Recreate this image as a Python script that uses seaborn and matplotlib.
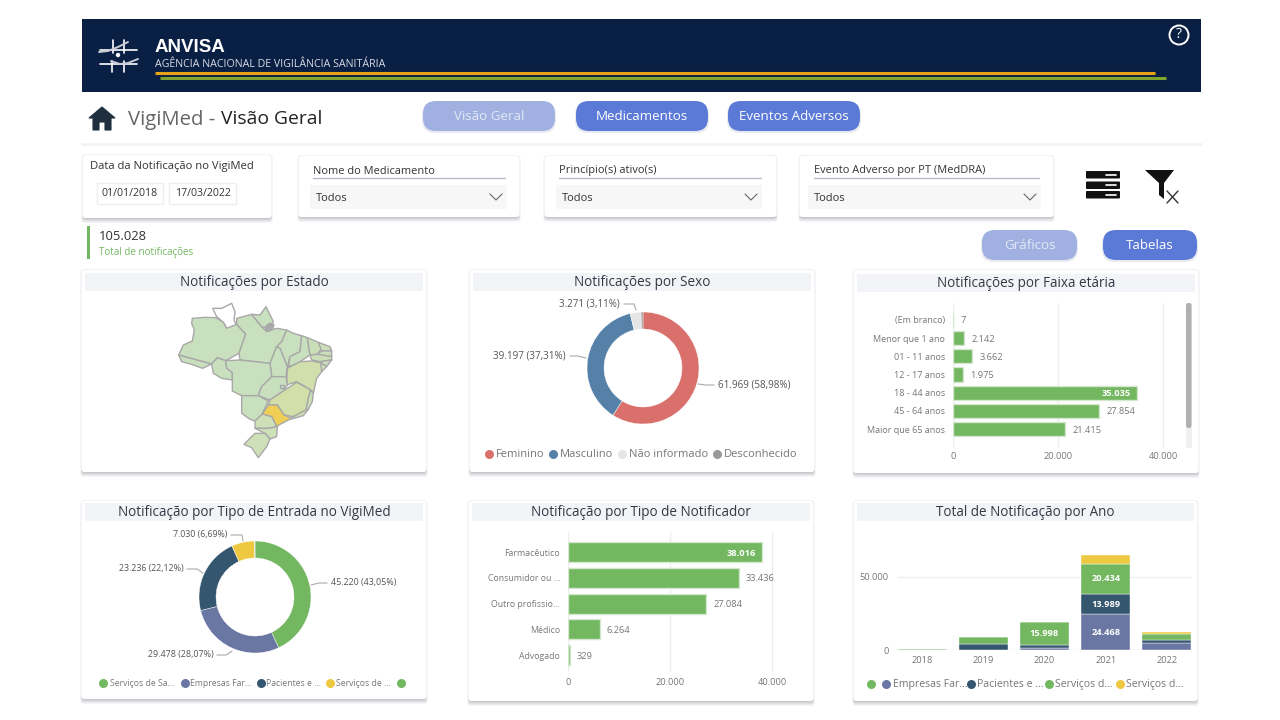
import numpy as np
import pandas as pd
import seaborn as sns
import matplotlib.pyplot as plt
from matplotlib.patches import FancyBboxPatch, Rectangle, Polygon, Circle

total_notificacoes = 105028

sexo_nomes = ['Feminino', 'Masculino', 'Não informado', 'Desconhecido']
sexo_valores = [61969, 39197, 3271, 591]
sexo_pct = ['58,98', '37,31', '3,11']
sexo_cores = ['#D9706B', '#5580A8', '#E6E6E6', '#999999']

entrada_nomes = ['Serviços de Sa...', 'Empresas Far...', 'Pacientes e ...', 'Serviços de ...', '']
entrada_valores = [45220, 29478, 23236, 7030, 64]
entrada_pct = ['43,05', '28,07', '22,12', '6,69']
entrada_cores = ['#73B761', '#6B77A3', '#34566F', '#EFC841', '#73B761']

faixa_nomes = ['(Em branco)', 'Menor que 1 ano', '01 - 11 anos', '12 - 17 anos', '18 - 44 anos', '45 - 64 anos', 'Maior que 65 anos']
faixa_valores = [7, 2142, 3662, 1975, 35035, 27854, 21415]

notificador_nomes = ['Farmacêutico', 'Consumidor ou ...', 'Outro profissio...', 'Médico', 'Advogado']
notificador_valores = [38016, 33436, 27084, 6264, 329]

anos = ['2018', '2019', '2020', '2021', '2022']
ano_empresas = [150, 100, 1100, 24468, 5000]
ano_pacientes = [100, 4000, 2300, 13989, 1900]
ano_saude = [150, 4600, 15998, 20434, 4300]
ano_outros = [50, 100, 100, 6480, 1200]
ano_nomes = ['Empresas Far...', 'Pacientes e ...', 'Serviços d...', 'Serviços d...']
ano_cores = ['#6B77A3', '#34566F', '#73B761', '#EFC841']

# contornos dos estados, tracados sobre o print
mapa_rr = [(398,130),(425,130),(455,115),(465,140),(462,165),(470,182),(440,190),(430,172),(410,155)]
mapa_am = [(337,160),(375,157),(408,158),(430,172),(440,190),(470,178),(497,207),(477,265),(437,287),(412,278),(395,297),(350,285),(296,270),(310,240),(337,228),(343,195),(335,175)]
mapa_ac = [(296,270),(350,285),(395,297),(368,310),(335,298),(305,290)]
mapa_ro = [(395,297),(412,278),(437,287),(440,310),(457,322),(457,345),(425,340),(400,325)]
mapa_pa = [(470,178),(470,160),(515,148),(545,185),(560,200),(590,190),(620,195),(605,230),(590,245),(570,295),(480,285),(477,265),(497,207)]
mapa_ap = [(515,148),(540,150),(558,125),(580,170),(560,190),(545,185)]
mapa_ma = [(620,195),(640,205),(665,212),(660,260),(630,275),(622,305),(600,250),(590,245),(605,230)]
mapa_to = [(590,245),(600,250),(622,305),(618,335),(575,335),(570,295)]
mapa_pi = [(665,212),(682,218),(690,270),(660,290),(640,300),(625,305),(630,275),(660,260)]
mapa_ce = [(682,218),(715,232),(725,250),(712,268),(690,270)]
mapa_rn = [(715,232),(750,245),(755,258),(725,258)]
mapa_pb = [(725,258),(755,258),(755,275),(712,268)]
mapa_pe = [(690,270),(712,268),(755,275),(755,285),(720,290),(695,285)]
mapa_al = [(720,290),(755,285),(740,305)]
mapa_se = [(722,293),(740,305),(725,320)]
mapa_ba = [(622,310),(660,290),(695,288),(722,293),(725,320),(710,340),(700,385),(692,375),(650,350),(620,360)]
mapa_mt = [(437,287),(480,285),(570,295),(575,335),(545,365),(535,392),(485,392),(457,378),(457,322),(440,310)]
mapa_go = [(575,335),(618,335),(622,360),(610,378),(570,405),(535,392),(545,365)]
mapa_df = [(600,360),(612,360),(612,370),(600,370)]
mapa_ms = [(485,392),(535,392),(565,408),(545,450),(525,468),(510,463),(485,445)]
mapa_mg = [(570,405),(610,378),(650,352),(692,375),(685,400),(678,435),(640,455),(612,450),(592,420),(565,420)]
mapa_es = [(692,375),(700,385),(697,410),(685,433),(678,435),(685,400)]
mapa_rj = [(640,455),(678,435),(685,433),(670,452),(635,462)]
mapa_sp = [(547,447),(565,420),(592,420),(612,450),(635,460),(600,478),(590,485),(575,455)]
mapa_pr = [(525,468),(547,447),(575,455),(590,485),(565,490),(525,490)]
mapa_sc = [(525,490),(565,490),(592,485),(590,515),(570,522),(555,505)]
mapa_rs = [(525,505),(555,505),(570,522),(560,545),(535,578),(515,548),(492,538)]
mapa_marajo = [(556,185),(568,175),(582,178),(578,192),(566,198),(558,197)]
mapa_estados = [(mapa_rr, '#FFFFFF'), (mapa_am, '#C8E0BE'), (mapa_ac, '#C8E0BE'), (mapa_ro, '#C8E0BE'),
                (mapa_pa, '#C8E0BE'), (mapa_ap, '#C8E0BE'), (mapa_ma, '#C8E0BE'), (mapa_to, '#C8E0BE'),
                (mapa_pi, '#C8E0BE'), (mapa_ce, '#CADFB8'), (mapa_rn, '#CADFB8'), (mapa_pb, '#CADFB8'),
                (mapa_pe, '#CADFB8'), (mapa_al, '#CADFB8'), (mapa_se, '#CADFB8'), (mapa_ba, '#D0DFAB'),
                (mapa_mt, '#C8E0BE'), (mapa_go, '#C8E0BE'), (mapa_df, '#C8E0BE'), (mapa_ms, '#C8E0BE'),
                (mapa_mg, '#D3DFA8'), (mapa_es, '#CADFB8'), (mapa_rj, '#CFDFB0'), (mapa_sp, '#EFCF55'),
                (mapa_pr, '#CDE0B8'), (mapa_sc, '#CDE0B8'), (mapa_rs, '#CDE0B8'), (mapa_marajo, '#A9A9AD')]

sns.set_theme(style='white')
plt.rcParams['font.family'] = ['Open Sans', 'DejaVu Sans']

CINZA = '#777777'
VERDE = '#73B761'
AZUL = '#5B79D6'
AZUL_CLARO = '#A0B0E0'

fig = plt.figure(figsize=(12.8, 7.2), dpi=100, facecolor='white')

# eixo de fundo em pixels, para a moldura do painel
ui = fig.add_axes([0, 0, 1, 1])
ui.set_xlim(0, 1280)
ui.set_ylim(720, 0)
ui.axis('off')


def eixo_px(x0, y0, x1, y1):
    ax = fig.add_axes([x0 / 1280, 1 - y1 / 720, (x1 - x0) / 1280, (y1 - y0) / 720])
    ax.patch.set_alpha(0)
    return ax


def caixa(x0, y0, x1, y1, cor, raio=3, z=1):
    ui.add_patch(FancyBboxPatch((x0 + raio, y0 + raio), x1 - x0 - 2 * raio, y1 - y0 - 2 * raio,
                                boxstyle=f'round,pad={raio},rounding_size={raio}',
                                fc=cor, ec='none', zorder=z))


def cartao(x0, y0, x1, y1):
    # sombra feita com caixas sobrepostas
    for d, a in [(5, '#F5F5F7'), (4, '#ECECEF'), (3, '#E0E0E4'), (2, '#D2D2D7'), (1, '#C8C8CD')]:
        caixa(x0 - d * 0.3, y0, x1 + d * 0.3, y1 + d, a, z=1)
    caixa(x0 - 1, y0 - 1, x1 + 1, y1, '#F3F3F5', z=1)
    caixa(x0, y0, x1, y1, 'white', z=2)


def titulo_cartao(x0, x1, y0, texto):
    ui.add_patch(Rectangle((x0 + 3, y0 + 3), x1 - x0 - 6, 18, fc='#F3F4F8', ec='none', zorder=3))
    ui.text((x0 + x1) / 2, y0 + 12.5, texto, ha='center', va='center', fontsize=9.75, color='#333A45', zorder=4)


def botao(x0, y0, x1, y1, cor, texto, cor_texto='white'):
    caixa(x0 - 1, y0 + 1, x1 + 1, y1 + 2, '#E8EAF2', raio=13, z=1)
    caixa(x0, y0, x1, y1, cor, raio=13, z=2)
    ui.text((x0 + x1) / 2, (y0 + y1) / 2 + 0.5, texto, ha='center', va='center', fontsize=9.6, color=cor_texto, zorder=3)


def filtro(x0, y0, x1, y1, titulo, tx0, tx1, dx0, dx1):
    cartao(x0, y0, x1, y1)
    ui.text(tx0, 171, titulo, ha='left', va='center', fontsize=7.9, color='#333333', zorder=4)
    ui.plot([tx0, tx1], [178, 178], color='#B8BAD0', lw=1, zorder=4)
    ui.add_patch(Rectangle((dx0, 185), dx1 - dx0, 24, fc='#F7F7F7', ec='none', zorder=3))
    ui.text(dx0 + 6, 198.5, 'Todos', ha='left', va='center', fontsize=8, color='#333333', zorder=4)
    cx = dx1 - 11
    ui.plot([cx - 6, cx, cx + 6], [194, 200, 194], color='#666666', lw=0.8, zorder=4)


# cabecalho
ui.add_patch(Rectangle((82, 19), 1119, 72.5, fc='#0A1F44', ec='none'))
ui.plot([155, 1155], [72.5, 72.5], color='#E8A317', lw=2.2, solid_capstyle='butt')
ui.plot([160, 1166], [77.5, 77.5], color='#7FA52E', lw=2.2, solid_capstyle='butt')
ui.text(155, 47, 'ANVISA', family='Liberation Sans', fontweight='bold', fontsize=13.5, color='white', ha='left', va='center')
ui.text(155, 64.5, 'AGÊNCIA NACIONAL DE VIGILÂNCIA SANITÁRIA', fontsize=7.7, color='#D8DCE4', ha='left', va='center')

# logo
for xs, ys in [([100, 137], [50, 50]), ([100, 137], [64, 64]), ([113, 113], [40, 53]), ([124, 124], [40, 53]),
               ([112, 112], [61, 72]), ([124, 124], [61, 72])]:
    ui.plot(xs, ys, color='white', lw=1.2)
ui.plot([99, 108, 118, 128], [52, 51, 47, 42], color='#C8CCD6', lw=1.4)
ui.plot([111, 120, 128, 138], [61, 64, 63, 59], color='#C8CCD6', lw=1.4)
ui.add_patch(Circle((118, 55), 2.2, fc='white', ec='none'))

# ajuda
ui.add_patch(Circle((1179, 35), 9.5, fc='none', ec='white', lw=1.4))
ui.text(1179, 35, '?', color='white', fontsize=10, ha='center', va='center')

# barra de navegacao
ui.add_patch(Rectangle((82, 92), 1119, 51, fc='white', ec='none', zorder=1))
ui.plot([82, 1201], [144, 144], color='#F3F3F3', lw=2, zorder=0)
ui.add_patch(Polygon([(89, 118), (102, 107), (115, 118), (111, 118), (111, 130), (105, 130), (105, 122), (99, 122), (99, 130), (93, 130), (93, 118)],
                     fc='#1F2F40', ec='#1F2F40', lw=0.8, zorder=3))
ui.text(128, 119.5, 'VigiMed - ', fontsize=14.6, color='#666666', ha='left', va='center', zorder=3)
ui.text(221, 119.5, 'Visão Geral', fontsize=13.9, color='#222222', ha='left', va='center', zorder=3)
botao(423, 101, 555, 131, AZUL_CLARO, 'Visão Geral', '#E4E8F6')
botao(576, 101, 708, 131, AZUL, 'Medicamentos')
botao(728, 101, 860, 131, AZUL, 'Eventos Adversos')

# filtros
cartao(83, 155, 271, 218)
ui.text(90, 166, 'Data da Notificação no VigiMed', fontsize=8.1, color='#333333', ha='left', va='center', zorder=4)
for x0, x1, txt in [(97, 163, '01/01/2018'), (169, 236, '17/03/2022')]:
    ui.add_patch(Rectangle((x0, 183), x1 - x0, 21, fc='white', ec='#EEEEEE', lw=1, zorder=3))
    ui.text((x0 + x1) / 2, 194, txt, fontsize=7.6, color='#333333', ha='center', va='center', zorder=4)
filtro(299, 156, 519, 217, 'Nome do Medicamento', 313, 505, 310, 507)
filtro(545, 156, 776, 217, 'Princípio(s) ativo(s)', 559, 761, 556, 762)
filtro(800, 156, 1053, 217, 'Evento Adverso por PT (MedDRA)', 814, 1039, 808, 1041)

# icones
for y in [171, 181.5, 191]:
    caixa(1086, y, 1120, y + 7.5, '#111111', raio=1, z=3)
    ui.plot([1106, 1116], [y + 3.7, y + 3.7], color='white', lw=1.2, zorder=4)
ui.add_patch(Polygon([(1145, 170), (1174, 170), (1164, 183), (1164, 199), (1159, 195), (1159, 183)], fc='#111111', ec='none', zorder=3))
ui.plot([1167, 1178], [191, 203], color='#333333', lw=1, zorder=4)
ui.plot([1178, 1167], [191, 203], color='#333333', lw=1, zorder=4)

# total e botoes
ui.add_patch(Rectangle((87, 226), 3, 33, fc=VERDE, ec='none'))
ui.text(99, 236, f'{total_notificacoes:,}'.replace(',', '.'), fontsize=9.4, color='#333333', ha='left', va='center')
ui.text(99, 252, 'Total de notificações', fontsize=7.1, color=VERDE, ha='left', va='center')
botao(982, 230, 1077, 260, AZUL_CLARO, 'Gráficos', '#E4E8F6')
botao(1103, 230, 1197, 260, AZUL, 'Tabelas')

# cartoes
cartao(82, 270, 426, 472)
cartao(470, 270, 814, 472)
cartao(854, 270, 1198, 473)
cartao(82, 501, 426, 699)
cartao(469, 501, 813, 701)
cartao(854, 501, 1197, 701)
titulo_cartao(82, 426, 270, 'Notificações por Estado')
titulo_cartao(470, 814, 270, 'Notificações por Sexo')
titulo_cartao(854, 1198, 271, 'Notificações por Faixa etária')
titulo_cartao(82, 426, 500, 'Notificação por Tipo de Entrada no VigiMed')
titulo_cartao(469, 813, 500, 'Notificação por Tipo de Notificador')
titulo_cartao(854, 1197, 500, 'Total de Notificação por Ano')

# mapa
ax_mapa = eixo_px(80, 265, 430, 480)
ax_mapa.set_xlim(0, 1050)
ax_mapa.set_ylim(645, 0)
ax_mapa.axis('off')
for contorno, cor in mapa_estados:
    ax_mapa.add_patch(Polygon(contorno, fc=cor, ec='#A8A8A8', lw=1, joinstyle='round'))


def fmt(v):
    return f'{v:,}'.replace(',', '.')


def rosca(cx, cy, valores, cores):
    ax = eixo_px(cx - 58, cy - 58, cx + 58, cy + 58)
    ax.pie(valores, colors=cores, startangle=90, counterclock=False, radius=56 / 58,
           wedgeprops=dict(width=17 / 58, edgecolor='white', linewidth=0.3))
    ax.set_xlim(-1, 1)
    ax.set_ylim(-1, 1)
    return ax


def rotulo_rosca(texto, x, y, ha, linha, tam):
    ui.text(x, y, texto, fontsize=tam, color='#555555', ha=ha, va='center', zorder=5)
    ui.plot([p[0] for p in linha], [p[1] for p in linha], color='#AAAAAA', lw=0.8, zorder=5)


def legenda(itens, y, tam=6.7):
    for x_bola, x_txt, cor, txt in itens:
        ui.scatter([x_bola], [y], s=42, color=cor, linewidths=0, zorder=5)
        ui.text(x_txt, y + 0.8, txt, fontsize=tam, color=CINZA, ha='left', va='center', zorder=5)


# sexo
rosca(643, 368, sexo_valores, sexo_cores)
rotulo_rosca(f'{fmt(sexo_valores[0])} ({sexo_pct[0]}%)', 718, 385, 'left', [(698, 384), (706, 385), (714, 385)], 7.1)
rotulo_rosca(f'{fmt(sexo_valores[1])} ({sexo_pct[1]}%)', 566, 356, 'right', [(570, 356), (578, 356), (586, 358)], 7.1)
rotulo_rosca(f'{fmt(sexo_valores[2])} ({sexo_pct[2]}%)', 620, 303.5, 'right', [(624, 304), (634, 304), (636, 310)], 7.0)
legenda([(489, 496, sexo_cores[0], sexo_nomes[0]), (553, 560, sexo_cores[1], sexo_nomes[1]),
         (622, 629, sexo_cores[2], sexo_nomes[2]), (717, 724, sexo_cores[3], sexo_nomes[3])], 454, tam=8)

# tipo de entrada
rosca(255, 597, entrada_valores, entrada_cores)
rotulo_rosca(f'{fmt(entrada_valores[0])} ({entrada_pct[0]}%)', 331, 583, 'left', [(311, 585), (319, 583), (327, 583)], 6.4)
rotulo_rosca(f'{fmt(entrada_valores[1])} ({entrada_pct[1]}%)', 214, 654, 'right', [(217, 655), (226, 655), (232, 651)], 6.4)
rotulo_rosca(f'{fmt(entrada_valores[2])} ({entrada_pct[2]}%)', 184, 569, 'right', [(187, 569), (197, 569), (203, 573)], 6.4)
rotulo_rosca(f'{fmt(entrada_valores[3])} ({entrada_pct[3]}%)', 227, 535, 'right', [(231, 535), (242, 535), (243, 541)], 6.3)
legenda([(103, 109.5, entrada_cores[0], entrada_nomes[0]), (185, 190.5, entrada_cores[1], entrada_nomes[1]),
         (261, 266, entrada_cores[2], entrada_nomes[2]), (330, 336, entrada_cores[3], entrada_nomes[3]),
         (401, 408, entrada_cores[4], entrada_nomes[4])], 683, tam=6.2)


def barras(ax, nomes, valores, destaque, tam_nome):
    sns.barplot(x=valores, y=nomes, color=VERDE, saturation=1, width=0.78, orient='h',
                edgecolor='#D5E8CE', linewidth=1, ax=ax, zorder=3)
    ax.set_xticks([0, 20000, 40000])
    ax.set_xticklabels(['0', '20.000', '40.000'])
    ax.xaxis.grid(True, color='#EEEEEE', lw=1, zorder=0)
    ax.yaxis.grid(False)
    ax.set_axisbelow(True)
    ax.tick_params(axis='x', length=0, labelsize=6.7, labelcolor=CINZA)
    ax.tick_params(axis='y', length=0, labelsize=tam_nome, labelcolor=CINZA, pad=5.8)
    ax.set_xlabel('')
    ax.set_ylabel('')
    sns.despine(ax=ax, left=True, bottom=True, top=True, right=True)
    for i, v in enumerate(valores):
        if i == destaque:
            ax.annotate(fmt(v), (v, i), xytext=(-6, -1), textcoords='offset pixels', ha='right', va='center',
                        fontsize=6.7, fontweight='bold', color='white', zorder=5)
        else:
            ax.annotate(fmt(v), (v, i), xytext=(7, -1), textcoords='offset pixels', ha='left', va='center',
                        fontsize=6.7, color=CINZA, zorder=5)


# faixa etaria
ax_faixa = eixo_px(953, 303, 1184, 448)
barras(ax_faixa, faixa_nomes, faixa_valores, 4, 6.5)
ax_faixa.set_xlim(0, 44000)
ax_faixa.set_ylim(7.04, -0.93)
ax_faixa.tick_params(axis='x', pad=3)
ui.add_patch(Rectangle((1186, 303), 5.5, 145, fc='#F0F0F0', ec='none', zorder=3))
caixa(1186, 303, 1191.5, 428, '#B0B0B0', raio=2.5, z=4)

# tipo de notificador
ax_not = eixo_px(568, 532, 800, 672)
barras(ax_not, notificador_nomes, notificador_valores, 0, 6.35)
ax_not.set_xlim(0, 232 / 102 * 20000)
ax_not.set_ylim(4.66, -0.78)
ax_not.tick_params(axis='x', pad=4)

# total por ano, empilhado com histplot
df_ano = pd.DataFrame({
    'ano': anos * 4,
    'tipo': [n for n in ['e', 'p', 's', 'o'] for _ in anos],
    'valor': ano_empresas + ano_pacientes + ano_saude + ano_outros,
})
ax_ano = eixo_px(897, 545, 1192, 650)
sns.histplot(df_ano, x='ano', weights='valor', hue='tipo', hue_order=['o', 's', 'p', 'e'], multiple='stack',
             palette=dict(zip(['e', 'p', 's', 'o'], ano_cores)), shrink=0.8, discrete=True, alpha=1,
             edgecolor='white', linewidth=0.3, legend=False, ax=ax_ano, zorder=3)
ax_ano.set_xlim(-0.41, 4.41)
ax_ano.set_ylim(0, 71900)
ax_ano.set_yticks([0, 50000])
ax_ano.set_yticklabels(['0', '50.000'])
ax_ano.yaxis.grid(True, color='#EEEEEE', lw=1, zorder=0)
ax_ano.xaxis.grid(False)
ax_ano.set_axisbelow(True)
ax_ano.tick_params(axis='both', length=0, labelsize=6.7, labelcolor=CINZA)
ax_ano.tick_params(axis='x', pad=4.5)
ax_ano.tick_params(axis='y', pad=6)
ax_ano.set_xlabel('')
ax_ano.set_ylabel('')
sns.despine(ax=ax_ano, left=True, bottom=True, top=True, right=True)
ax_ano.text(2, ano_empresas[2] + ano_pacientes[2] + ano_saude[2] / 2, fmt(ano_saude[2]), color='white', fontweight='bold',
            fontsize=6.7, ha='center', va='center', zorder=6)
ax_ano.text(3, ano_empresas[3] / 2, fmt(ano_empresas[3]), color='white', fontweight='bold', fontsize=6.7, ha='center', va='center', zorder=6)
ax_ano.text(3, ano_empresas[3] + ano_pacientes[3] / 2, fmt(ano_pacientes[3]), color='white', fontweight='bold', fontsize=6.7, ha='center', va='center', zorder=6)
ax_ano.text(3, ano_empresas[3] + ano_pacientes[3] + ano_saude[3] / 2, fmt(ano_saude[3]), color='white', fontweight='bold', fontsize=6.7, ha='center', va='center', zorder=6)
legenda([(871, 871, VERDE, ''), (886, 893, ano_cores[0], ano_nomes[0]), (971, 977, ano_cores[1], ano_nomes[1]),
         (1049, 1055, ano_cores[2], ano_nomes[2]), (1120, 1126, ano_cores[3], ano_nomes[3])], 684, tam=7.6)

fig.savefig('out.png', dpi=100)
